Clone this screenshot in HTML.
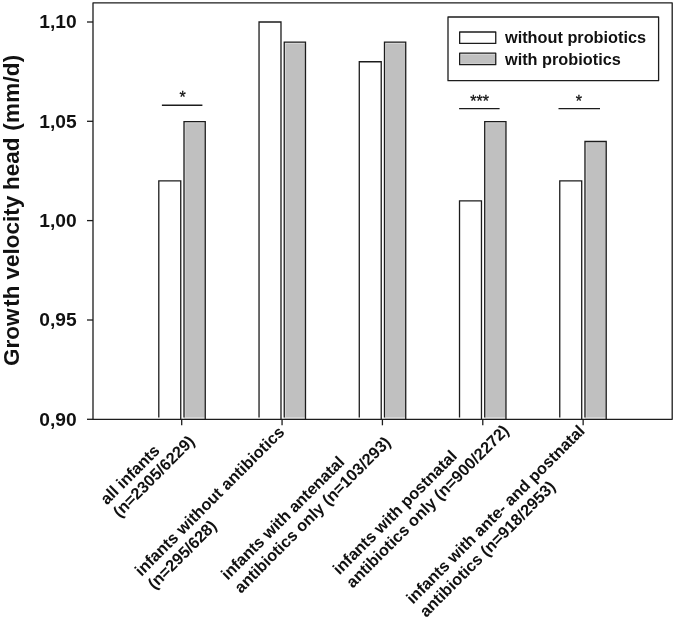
<!DOCTYPE html>
<html>
<head>
<meta charset="utf-8">
<title>Growth velocity head</title>
<style>
html,body{margin:0;padding:0;background:#fff;}
body{width:675px;height:620px;overflow:hidden;font-family:"Liberation Sans",sans-serif;}
svg{display:block;filter:grayscale(1);}
text{font-family:"Liberation Sans",sans-serif;font-weight:bold;fill:#111;}
.ln{stroke:#1c1c1c;stroke-width:1.3;fill:none;}
.bw{fill:#fff;stroke:#1c1c1c;stroke-width:1.3;}
.bg{fill:#c1c1c1;stroke:#1c1c1c;stroke-width:1.3;}
.yt{font-size:19.2px;text-anchor:end;}
.xl{font-size:16.3px;text-anchor:start;}
.lg{font-size:16.3px;}
</style>
</head>
<body>
<svg width="675" height="620" viewBox="0 0 675 620">
<rect x="0" y="0" width="675" height="620" fill="#fff"/>

<!-- bars: baseline y=419.3 ; 1,10 at y=22 ; 99.3px per 0.05 -->
<g id="bars">
<path class="bw" d="M158.80,417.50 V180.91 H180.75 V419.30"/>
<rect x="184.00" y="121.62" width="21.25" height="297.68" fill="#dadada"/><rect x="185.50" y="123.22" width="19.15" height="293.88" fill="#c0c0c0"/><path class="ln" d="M184.00,417.50 V121.62 H205.25 V419.30"/>
<path class="bw" d="M259.04,417.50 V22.00 H280.99 V419.30"/>
<rect x="284.24" y="42.16" width="21.25" height="377.14" fill="#dadada"/><rect x="285.74" y="43.76" width="19.15" height="373.34" fill="#c0c0c0"/><path class="ln" d="M284.24,417.50 V42.16 H305.49 V419.30"/>
<path class="bw" d="M359.28,417.50 V61.73 H381.23 V419.30"/>
<rect x="384.48" y="42.16" width="21.25" height="377.14" fill="#dadada"/><rect x="385.98" y="43.76" width="19.15" height="373.34" fill="#c0c0c0"/><path class="ln" d="M384.48,417.50 V42.16 H405.73 V419.30"/>
<path class="bw" d="M459.52,417.50 V200.78 H481.47 V419.30"/>
<rect x="484.72" y="121.62" width="21.25" height="297.68" fill="#dadada"/><rect x="486.22" y="123.22" width="19.15" height="293.88" fill="#c0c0c0"/><path class="ln" d="M484.72,417.50 V121.62 H505.97 V419.30"/>
<path class="bw" d="M559.76,417.50 V180.91 H581.71 V419.30"/>
<rect x="584.96" y="141.48" width="21.25" height="277.82" fill="#dadada"/><rect x="586.46" y="143.08" width="19.15" height="274.02" fill="#c0c0c0"/><path class="ln" d="M584.96,417.50 V141.48 H606.21 V419.30"/>
</g>

<!-- frame -->
<rect class="ln" x="93" y="2.8" width="579.2" height="416.5" style="stroke-linejoin:round"/>

<!-- y ticks -->
<g class="ln">
<line x1="87" y1="22" x2="93" y2="22"/>
<line x1="87" y1="121.3" x2="93" y2="121.3"/>
<line x1="87" y1="220.6" x2="93" y2="220.6"/>
<line x1="87" y1="320" x2="93" y2="320"/>
<line x1="87" y1="419.3" x2="93" y2="419.3"/>
</g>
<!-- x ticks -->
<g class="ln">
<line x1="181.70" y1="419.3" x2="181.70" y2="425.3"/>
<line x1="282.06" y1="419.3" x2="282.06" y2="425.3"/>
<line x1="382.42" y1="419.3" x2="382.42" y2="425.3"/>
<line x1="482.78" y1="419.3" x2="482.78" y2="425.3"/>
<line x1="583.14" y1="419.3" x2="583.14" y2="425.3"/>
</g>

<!-- y tick labels -->
<text class="yt" x="76.6" y="28.2">1,10</text>
<text class="yt" x="76.6" y="127.5">1,05</text>
<text class="yt" x="76.6" y="226.8">1,00</text>
<text class="yt" x="76.6" y="326.2">0,95</text>
<text class="yt" x="76.6" y="425.5">0,90</text>

<!-- y title -->
<g id="ytitle" style="font-size:22.5px;">
<text transform="translate(19,366.1) rotate(-90)">Grow</text>
<text transform="translate(19,306.8) rotate(-90)">th</text>
<text transform="translate(19,279.5) rotate(-90)">velocity</text>
<text transform="translate(19,190) rotate(-90)">head</text>
<text transform="translate(19,130.7) rotate(-90)" style="letter-spacing:0.2px">(mm/d)</text>
</g>

<!-- legend -->
<rect class="ln" x="448" y="17" width="210.6" height="63.7" fill="#fff" style="fill:#fff;stroke-linejoin:round"/>
<rect class="bw" x="459.65" y="32" width="36.1" height="11.4" style="stroke-linejoin:round"/>
<rect x="459.65" y="53.2" width="36.1" height="11.5" fill="#dadada"/>
<rect x="461.1" y="54.7" width="34" height="8.8" fill="#c0c0c0"/>
<rect class="ln" x="459.65" y="53.2" width="36.1" height="11.5" style="stroke-linejoin:round"/>
<text class="lg" x="505" y="43.3">without probiotics</text>
<text class="lg" x="505" y="65">with probiotics</text>

<!-- significance -->
<g class="ln" style="stroke-width:1.4">
<line x1="161.9" y1="105.3" x2="202.4" y2="105.3"/>
<line x1="459.1" y1="108.6" x2="499.6" y2="108.6"/>
<line x1="558.5" y1="108.6" x2="600" y2="108.6"/>
</g>
<g style="font-size:16px;font-weight:normal;text-anchor:middle;stroke:#111;stroke-width:0.3px;">
<text x="182.5" y="103" style="font-weight:normal;">*</text>
<text x="479.65" y="107.2" style="font-weight:normal;">***</text>
<text x="578.8" y="107.1" style="font-weight:normal;">*</text>
</g>

<!-- x labels -->
<g class="xl">
<g transform="translate(106.95,505.45) rotate(-45)"><text x="0" y="0">all infants</text><text x="0" y="17.96">(n=2305/6229)</text></g>
<g transform="translate(141.40,576.90) rotate(-45)"><text x="0" y="0" style="letter-spacing:0.07px">infants without antibiotics</text><text x="0" y="18.53">(n=295/628)</text></g>
<g transform="translate(227.75,580.75) rotate(-45)"><text x="0" y="0">infants with antenatal</text><text x="0" y="18.74">antibiotics only (n=103/293)</text></g>
<g transform="translate(339.60,575.40) rotate(-45)"><text x="0" y="0">infants with postnatal</text><text x="0" y="18.74">antibiotics only (n=900/2272)</text></g>
<g transform="translate(412.90,604.70) rotate(-45)"><text x="0" y="0">infants with ante- and postnatal</text><text x="0" y="18.74">antibiotics (n=918/2953)</text></g>
</g>
</svg>
</body>
</html>
